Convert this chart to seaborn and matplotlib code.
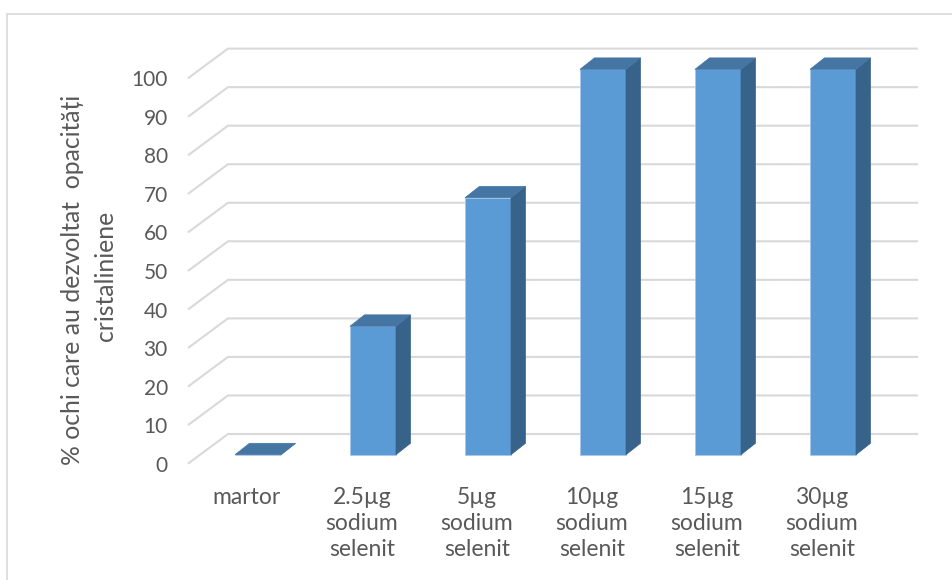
import numpy as np
import pandas as pd
import matplotlib
matplotlib.use("Agg")
import matplotlib.pyplot as plt
from matplotlib.patches import Polygon, Rectangle
import seaborn as sns

# Data
categories = ["martor", "2.5µg\nsodium\nselenit", "5µg\nsodium\nselenit",
              "10µg\nsodium\nselenit", "15µg\nsodium\nselenit", "30µg\nsodium\nselenit"]
percent_eyes = [0, 33.33, 66.67, 100, 100, 100]
y_ticks = [0, 10, 20, 30, 40, 50, 60, 70, 80, 90, 100]
ylabel_lines = ["% ochi care au dezvoltat  opacități", "cristaliniene"]

sns.set_style("white")
plt.rcParams["font.family"] = ["Lato", "DejaVu Sans"]

FRONT = "#5B9BD5"
TOP = "#4575A3"
SIDE = "#37628A"
GRID = "#D9D9D9"
TEXT = "#595959"

# depth offsets (category units, value units)
BAR_DX, BAR_DY = 0.126, 2.96        # thickness of each column
WALL_DX, WALL_DY = 0.26, 5.37       # back wall behind the columns
FLOOR_DX, FLOOR_DY = -0.096, -2.33  # front edge of the floor

fig = plt.figure(figsize=(9.53, 5.80), dpi=100)
ax = fig.add_axes([0.18625, 0.18281, 0.78437, 0.73093])

df = pd.DataFrame({"cat": categories, "val": percent_eyes})
sns.barplot(data=df, x="cat", y="val", order=categories, color=FRONT,
            saturation=1, width=0.4, ax=ax, zorder=3,
            edgecolor="#A9C8EA", linewidth=0.6)

ax.set_xlim(-0.7, 5.8)
ax.set_ylim(-5, 105)

# perspective gridlines: floor edge -> back wall -> across the wall
x_front = -0.609
x_wall_l = -0.261
x_wall_r = 5.739
for v in y_ticks:
    ax.plot([x_front, x_wall_l, x_wall_r],
            [v + FLOOR_DY, v + WALL_DY, v + WALL_DY],
            color=GRID, lw=1.5, zorder=1, clip_on=False,
            solid_capstyle="butt", solid_joinstyle="miter")

# top and side faces of every column
for p in ax.patches[:len(percent_eyes)]:
    x0, w, h = p.get_x(), p.get_width(), p.get_height()
    top = Polygon([(x0, h), (x0 + w, h), (x0 + w + BAR_DX, h + BAR_DY),
                   (x0 + BAR_DX, h + BAR_DY)], closed=True,
                  facecolor=TOP, edgecolor=TOP, lw=0.5, zorder=4, clip_on=False)
    side = Polygon([(x0 + w, 0), (x0 + w, h), (x0 + w + BAR_DX, h + BAR_DY),
                    (x0 + w + BAR_DX, BAR_DY)], closed=True,
                   facecolor=SIDE, edgecolor=SIDE, lw=0.5, zorder=4, clip_on=False)
    ax.add_patch(side)
    ax.add_patch(top)

# tick labels sit on the front edge of the floor
ax.set_yticks(np.array(y_ticks) + FLOOR_DY, [str(t) for t in y_ticks])
ax.set_xticks(np.arange(len(categories)) + FLOOR_DX, categories)
ax.tick_params(axis="both", length=0, labelcolor=TEXT)
ax.tick_params(axis="y", pad=7, labelsize=15)
ax.tick_params(axis="x", pad=9.5, labelsize=16.5)
for lab in ax.get_xticklabels():
    lab.set_linespacing(1.3)
ax.set_xlabel("")
ax.set_ylabel("")
for s in ax.spines.values():
    s.set_visible(False)

# axis title, two rotated lines
fig.text(0.0756, 1 - 280 / 580, ylabel_lines[0], rotation=90, ha="center",
         va="center", fontsize=17.8, color=TEXT)
fig.text(0.1112, 1 - 276 / 580, ylabel_lines[1], rotation=90, ha="center",
         va="center", fontsize=17.8, color=TEXT)

# chart-area border
fig.patches.append(Rectangle((7.5 / 953, -0.05), 1.1, 1 - 13.5 / 580 + 0.05,
                             transform=fig.transFigure, fill=False,
                             edgecolor=GRID, lw=1.2, zorder=0))

fig.savefig("out.png", dpi=100, facecolor="white")
